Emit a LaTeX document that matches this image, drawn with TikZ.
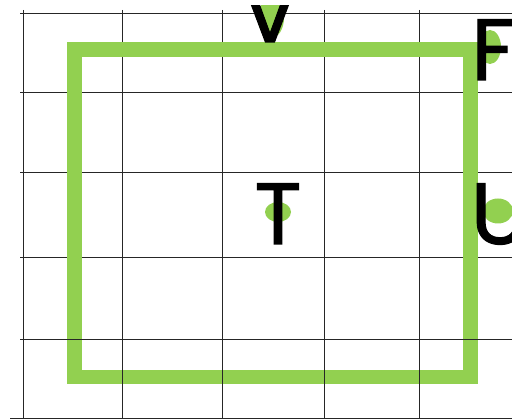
\documentclass[tikz,border=0pt]{standalone}
\usepackage{fontspec}
\setmainfont{Poppins}
\newfontfamily\lblfont{Poppins}[FakeBold=1.2]
\definecolor{leaf}{HTML}{92D050}
\begin{document}
\begin{tikzpicture}[x=1pt,y=-1pt,
  gridline/.style={black!85,line width=0.8pt},
  frame/.style={draw=leaf,line width=14.5pt},
  dot/.style={fill=leaf},
  lbl/.style={inner sep=0pt,anchor=base,font=\lblfont\fontsize{87}{87}\selectfont}]
\useasboundingbox (0,0) rectangle (512,419);
\clip (0,6) rectangle (512,419);
% grid
\foreach \gy in {13,92,172,257,339} \draw[gridline] (20,\gy) -- (512,\gy);
\draw[gridline] (10,418) -- (512,418);
\foreach \gx in {23,122,222,324,419} \draw[gridline] (\gx,10) -- (\gx,419);
% green frame
\draw[frame] (74.5,49.5) rectangle (470.5,377);
% lower grid over the frame
\begin{scope}
\clip (0,300) rectangle (512,419);
\foreach \gy in {339} \draw[gridline] (20,\gy) -- (512,\gy);
\foreach \gx in {23,122,222,324,419} \draw[gridline] (\gx,300) -- (\gx,419);
\end{scope}
% dots
\fill[dot] (271,18) ellipse [x radius=13, y radius=20];
\fill[dot] (490,47) ellipse [x radius=11, y radius=17];
\fill[dot] (278,212) ellipse [x radius=13, y radius=10];
\fill[dot] (498,211) ellipse [x radius=15, y radius=12.5];
% labels
\node[lbl] (V) at (270,42) {V};
\node[lbl] (F) at (493,80) {F};
\node[lbl] (T) at (278,244) {T};
\node[lbl] (U) at (500,244) {U};
\end{tikzpicture}
\end{document}
